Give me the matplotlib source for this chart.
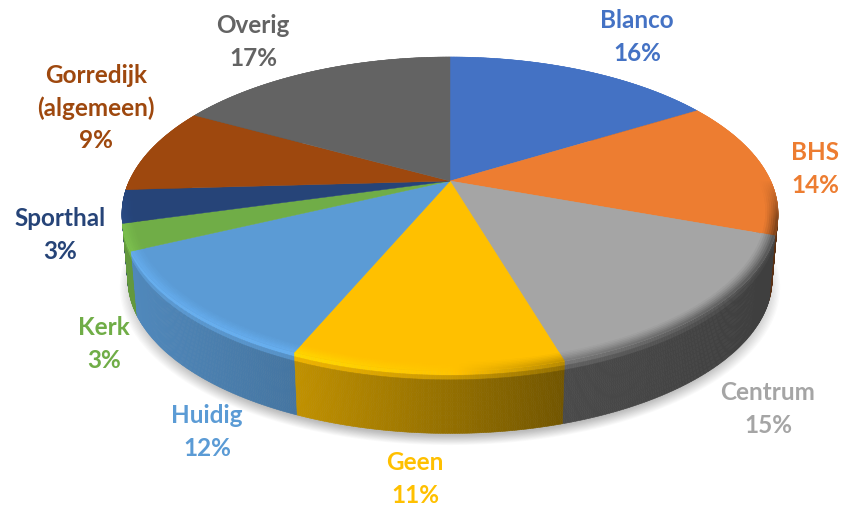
import numpy as np
import matplotlib
matplotlib.use('Agg')
import matplotlib.pyplot as plt
from matplotlib.collections import PolyCollection
from matplotlib.colors import to_rgb

categories = ['Blanco', 'BHS', 'Centrum', 'Geen', 'Huidig', 'Kerk', 'Sporthal', 'Gorredijk\n(algemeen)', 'Overig']
values = [16.3, 14.2, 14.9, 11.0, 11.6, 2.7, 3.4, 8.9, 17.0]
colors = ['#4472C4', '#ED7D31', '#A5A5A5', '#FFC000', '#5B9BD5', '#70AD47', '#264478', '#9E480E', '#636363']
label_pos = [(637, 37), (815, 169), (768, 409), (415, 479), (207, 432), (104, 344), (60, 235), (96, 108), (253, 42)]

cx, cy = 450, 182
a, b, k = 320.7, 150, 0.21  # perspective of the disc
depth = 66
bottom_scale = 0.982


def project(r, t, d=0.0):
    # r radius 0-1, t clockwise from top (radians), d 0-1 down the side
    u = r * np.sin(t)
    v = r * np.cos(t)
    s = 1 - (1 - bottom_scale) * d
    w = 1 + k * v
    return cx + s * a * u / w, cy + depth * d - s * b * v / w


def side_factor(x):
    return np.interp(x, [130, 300, 563, 770], [0.88, 0.75, 0.45, 0.38])


def rim_factor(x):
    return np.interp(x, [130, 300, 450, 563, 770], [1.12, 1.12, 1.02, 0.72, 0.45])


def quad(t0, t1, r0, r1, d0, d1):
    x00, y00 = project(r0, t0, d0)
    x01, y01 = project(r0, t1, d0)
    x11, y11 = project(r1, t1, d1)
    x10, y10 = project(r1, t0, d1)
    return [(x00, y00), (x01, y01), (x11, y11), (x10, y10)]


fig = plt.figure(figsize=(8.54, 5.06), dpi=100)
ax = fig.add_axes([0, 0, 1, 1])
ax.set_xlim(0, 854)
ax.set_ylim(506, 0)
ax.axis('off')

# soft shadow under the disc
ts = np.linspace(0, 2 * np.pi, 361)
for i in range(14):
    grow = 1.025 - i * 0.004
    xs, ys = project(1.0, ts, 1.0)
    xs = cx + (xs - cx) * grow
    ys = cy + depth + 7 + (ys - cy - depth) * grow
    ax.fill(xs, ys, color='k', alpha=0.018, lw=0, zorder=1)

edges = 2 * np.pi * np.concatenate(([0], np.cumsum(values))) / np.sum(values)

# side wall, front-most pieces drawn last
polys = []
cols = []
keys = []
depth_steps = np.linspace(0, 1, 15)
for i in range(len(values)):
    base = np.array(to_rgb(colors[i]))
    n = max(int((edges[i + 1] - edges[i]) / 0.006), 2)
    tt = np.linspace(edges[i], edges[i + 1], n + 1)
    for j in range(n):
        tm = (tt[j] + tt[j + 1]) / 2
        xm = project(1.0, tm)[0]
        weight = np.clip(-np.cos(tm) / 0.25, 0, 1)
        sf = side_factor(xm)
        rf = rim_factor(xm) * weight + (1 - weight)
        for d0, d1 in zip(depth_steps[:-1], depth_steps[1:]):
            f = sf
            if d0 < 0.14:
                f = rf + (sf - rf) * min(d0 / 0.14, 1)
            if d0 > 0.93:
                f = sf * 0.86
            polys.append(quad(tt[j], tt[j + 1], 1.0, 1.0, d0, d1))
            cols.append(np.clip(base * f, 0, 1))
            keys.append(-np.cos(tm))
order = np.argsort(keys, kind='stable')
polys = [polys[i] for i in order]
cols = [cols[i] for i in order]
ax.add_collection(PolyCollection(polys, facecolors=cols, edgecolors=cols, linewidths=0.4, zorder=2))

# flat top
for i in range(len(values)):
    tt = np.linspace(edges[i], edges[i + 1], 80)
    xs, ys = project(1.0, tt)
    ax.fill(np.r_[cx, xs], np.r_[cy, ys], color=colors[i], lw=0.3, zorder=3)

# bevel along the front edge of the top
polys = []
cols = []
ring_steps = np.linspace(0.958, 1.0, 8)
for i in range(len(values)):
    base = np.array(to_rgb(colors[i]))
    n = max(int((edges[i + 1] - edges[i]) / 0.006), 2)
    tt = np.linspace(edges[i], edges[i + 1], n + 1)
    for j in range(n):
        tm = (tt[j] + tt[j + 1]) / 2
        if np.cos(tm) > 0:
            continue
        xm = project(1.0, tm)[0]
        weight = np.clip(-np.cos(tm) / 0.25, 0, 1)
        rf = rim_factor(xm) * weight + (1 - weight)
        for r0, r1 in zip(ring_steps[:-1], ring_steps[1:]):
            s = (r0 - ring_steps[0]) / (ring_steps[-1] - ring_steps[0])
            f = 1 + (rf - 1) * s ** 1.3
            polys.append(quad(tt[j], tt[j + 1], r0, r1, 0, 0))
            cols.append(np.clip(base * f, 0, 1))
ax.add_collection(PolyCollection(polys, facecolors=cols, edgecolors=cols, linewidths=0.4, zorder=4))

# data labels
for name, val, col, pos in zip(categories, values, colors, label_pos):
    ax.text(pos[0], pos[1], '%s\n%.0f%%' % (name, val), color=col, ha='center', va='center',
            family='Lato', weight='bold', fontsize=17.5, linespacing=1.5, zorder=5)

fig.savefig('out.png', dpi=100)
